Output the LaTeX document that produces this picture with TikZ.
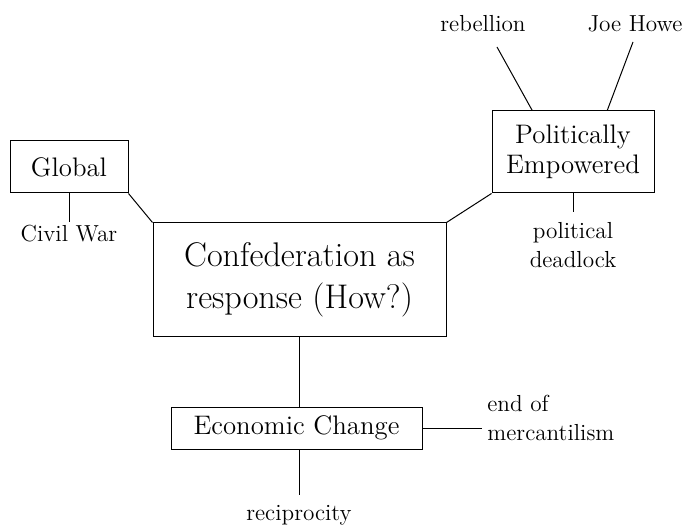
\documentclass[tikz,border=0pt]{standalone}
\usepackage{fontspec}
\usetikzlibrary{calc}
\newcommand\bigtxt{\fontsize{17.1pt}{21pt}\selectfont}
\newcommand\midtxt{\fontsize{13.4pt}{15pt}\selectfont}
\newcommand\smltxt{\fontsize{11.6pt}{14.7pt}\selectfont}
\tikzset{
	box/.style={draw, line width=0.5pt, inner sep=0pt, align=center},
	lbl/.style={inner sep=2.5pt, align=center, font=\smltxt},
	link/.style={line width=0.5pt},
}

\begin{document}
\begin{tikzpicture}[x=0.5pt, y=-0.5pt]
				\useasboundingbox (0,0) rectangle (691,529);
				
				\node[box, minimum width=146.5pt, minimum height=57pt, font=\bigtxt] (confed) at (299.5,280) {Confederation as\\response (How?)};
				\node[box, minimum width=59pt, minimum height=26pt, font=\midtxt] (global) at (69,167) {Global};
				\node[box, minimum width=81pt, minimum height=41pt, font=\midtxt] (polit) at (573,152) {Politically\\Empowered};
				\node[box, minimum width=125.5pt, minimum height=21pt, font=\midtxt] (econ) at (296.5,428) {Economic Change};
				
				\node[lbl, anchor=north, inner ysep=1.5pt] (civil) at (69,222) {Civil War};
				\node[lbl] (rebel) at (483,24) {rebellion};
				\node[lbl] (howe) at (635,24) {Joe Howe};
				\node[lbl, anchor=north, inner ysep=5pt] (dead) at (573,212) {political\\deadlock};
				\node[lbl, anchor=west, align=left] (merc) at (482,418) {end of\\mercantilism};
				\node[lbl, anchor=north, inner ysep=5pt] (recip) at (299,495) {reciprocity};
				
				\coordinate (rebelend) at (497,47);
				\coordinate (howeend) at (633,42);
				
				\draw[link] (global.south east) -- (confed.north west);
				\draw[link] (confed.north east) -- (polit.south west);
				\draw[link] (global.south) -- (civil.north);
				\draw[link] (polit.south) -- (dead.north);
				\draw[link] (rebelend) -- ($(polit.north west)!0.25!(polit.north east)$);
				\draw[link] (howeend) -- ($(polit.north west)!0.71!(polit.north east)$);
				\draw[link] (confed.south) -- (confed.south |- econ.north);
				\draw[link] (econ.east) -- (econ.east -| merc.west);
				\draw[link] (recip.north |- econ.south) -- (recip.north);
			\end{tikzpicture}
\end{document}
